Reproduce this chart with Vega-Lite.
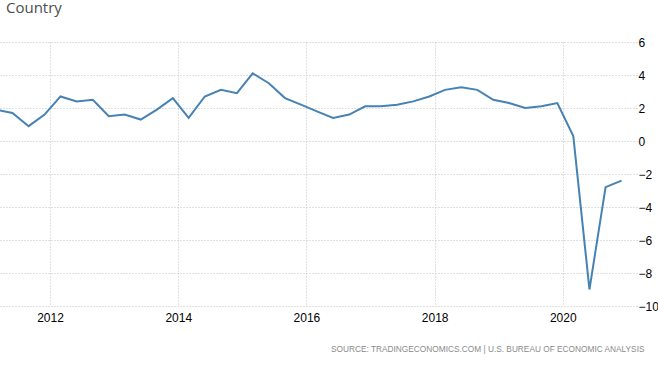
{
  "$schema": "https://vega.github.io/schema/vega-lite/v6.json",
  "autosize": "none",
  "width": 637,
  "height": 264,
  "padding": {"left": 0, "top": 42, "right": 21, "bottom": 64},
  "background": "white",
  "title": {
    "text": "Country",
    "anchor": "start",
    "frame": "group",
    "dx": 6,
    "offset": 8,
    "baseline": "alphabetic",
    "font": "Open Sans",
    "fontSize": 15,
    "fontWeight": "normal",
    "color": "#4d4d4d"
  },
  "data": {
    "values": [
      {"date": "2011-03-01", "value": 1.9},
      {"date": "2011-06-01", "value": 1.7},
      {"date": "2011-09-01", "value": 0.9},
      {"date": "2011-12-01", "value": 1.6},
      {"date": "2012-03-01", "value": 2.7},
      {"date": "2012-06-01", "value": 2.4},
      {"date": "2012-09-01", "value": 2.5},
      {"date": "2012-12-01", "value": 1.5},
      {"date": "2013-03-01", "value": 1.6},
      {"date": "2013-06-01", "value": 1.3},
      {"date": "2013-09-01", "value": 1.9},
      {"date": "2013-12-01", "value": 2.6},
      {"date": "2014-03-01", "value": 1.4},
      {"date": "2014-06-01", "value": 2.7},
      {"date": "2014-09-01", "value": 3.1},
      {"date": "2014-12-01", "value": 2.9},
      {"date": "2015-03-01", "value": 4.1},
      {"date": "2015-06-01", "value": 3.5},
      {"date": "2015-09-01", "value": 2.6},
      {"date": "2015-12-01", "value": 2.2},
      {"date": "2016-03-01", "value": 1.8},
      {"date": "2016-06-01", "value": 1.4},
      {"date": "2016-09-01", "value": 1.6},
      {"date": "2016-12-01", "value": 2.1},
      {"date": "2017-03-01", "value": 2.1},
      {"date": "2017-06-01", "value": 2.2},
      {"date": "2017-09-01", "value": 2.4},
      {"date": "2017-12-01", "value": 2.7},
      {"date": "2018-03-01", "value": 3.1},
      {"date": "2018-06-01", "value": 3.25},
      {"date": "2018-09-01", "value": 3.1},
      {"date": "2018-12-01", "value": 2.5},
      {"date": "2019-03-01", "value": 2.3},
      {"date": "2019-06-01", "value": 2.0},
      {"date": "2019-09-01", "value": 2.1},
      {"date": "2019-12-01", "value": 2.3},
      {"date": "2020-03-01", "value": 0.3},
      {"date": "2020-06-01", "value": -9.0},
      {"date": "2020-09-01", "value": -2.8},
      {"date": "2020-12-01", "value": -2.4}
    ]
  },
  "mark": {"type": "line", "color": "#4682b4", "strokeWidth": 2, "clip": true},
  "encoding": {
    "x": {
      "field": "date",
      "type": "temporal",
      "scale": {"domain": ["2011-03-22", "2021-02-27"], "nice": false},
      "axis": {
        "values": [
          {"year": 2012, "month": 1, "date": 1},
          {"year": 2014, "month": 1, "date": 1},
          {"year": 2016, "month": 1, "date": 1},
          {"year": 2018, "month": 1, "date": 1},
          {"year": 2020, "month": 1, "date": 1}
        ],
        "format": "%Y",
        "domain": false,
        "ticks": false,
        "labelPadding": 6,
        "labelFont": "Liberation Sans",
        "labelFontSize": 12,
        "labelColor": "#000000",
        "grid": true,
        "gridColor": "#c0c0c0",
        "gridDash": [1, 2],
        "gridWidth": 1,
        "title": "SOURCE: TRADINGECONOMICS.COM  |  U.S. BUREAU OF ECONOMIC ANALYSIS",
        "titleFont": "Liberation Sans",
        "titleFontSize": 8.3,
        "titleFontWeight": "normal",
        "titleColor": "#8a8a8a",
        "titleAnchor": "end",
        "titleAlign": "right",
        "titleBaseline": "middle",
        "titleX": 644,
        "titleY": 43
      }
    },
    "y": {
      "field": "value",
      "type": "quantitative",
      "scale": {"domain": [-10, 6], "nice": false, "zero": false},
      "axis": {
        "orient": "right",
        "values": [-10, -8, -6, -4, -2, 0, 2, 4, 6],
        "domain": false,
        "ticks": false,
        "labelPadding": 1,
        "labelAlign": "left",
        "labelFont": "Liberation Sans",
        "labelFontSize": 12,
        "labelColor": "#000000",
        "grid": true,
        "gridColor": "#c0c0c0",
        "gridDash": [1, 2],
        "gridWidth": 1,
        "title": null
      }
    }
  },
  "config": {"view": {"stroke": null}}
}
